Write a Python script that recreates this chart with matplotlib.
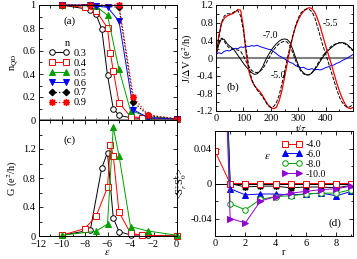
import numpy as np
import matplotlib
matplotlib.use('Agg')
import matplotlib.pyplot as plt
from matplotlib.ticker import MultipleLocator, FormatStrFormatter, FuncFormatter

plt.rcParams['font.family'] = ['Liberation Serif', 'DejaVu Serif']
plt.rcParams['mathtext.fontset'] = 'stix'
plt.rcParams['font.size'] = 7.5

# ---- panel (a): n_QD vs eps ----
eps_03 = [-10, -7.5, -7, -6.5, -6, -5.5, -5, -4, -2.5, 0]
nqd_03 = [1.0, 0.96, 0.92, 0.79, 0.39, 0.10, 0.04, 0.02, 0.01, 0.01]
eps_04 = [-10, -8, -7, -6, -5.75, -5.5, -5, -4, -3, 0]
nqd_04 = [1.0, 0.98, 0.95, 0.80, 0.58, 0.43, 0.15, 0.03, 0.02, 0.01]
eps_05 = [-10, -7, -6, -5, -4, -2.5, 0]
nqd_05 = [1.0, 0.99, 0.91, 0.44, 0.08, 0.03, 0.01]
eps_06 = [-10, -7.5, -7, -6, -5, -3.75, -2.5, 0]
nqd_06 = [1.0, 1.0, 0.99, 0.98, 0.86, 0.09, 0.02, 0.01]
eps_07 = [-10, -7.5, -5, -3.75, -2.5, 0]
nqd_07 = [1.0, 1.0, 0.98, 0.16, 0.04, 0.01]
eps_09 = [-10, -7.5, -5, -3.75, -2.5, 0]
nqd_09 = [1.0, 1.0, 1.0, 0.20, 0.045, 0.01]

# ---- panel (c): conductance ----
geps_03 = [-10, -7.5, -6.5, -6, -5.5, -5, -4, -2.5, 0]
g_03 = [0.01, 0.08, 0.94, 1.15, 0.25, 0.06, 0.015, 0.01, 0.0]
geps_04 = [-10, -8, -7, -6, -5.75, -5.5, -5, -4, -3, 0]
g_04 = [0.01, 0.10, 0.27, 0.67, 1.26, 1.11, 0.33, 0.04, 0.01, 0.0]
geps_05 = [-10, -7, -6, -5.5, -5, -4, -2.5, 0]
g_05 = [0.01, 0.065, 0.165, 1.5, 1.11, 0.13, 0.07, 0.01]

# ---- panel (b): current vs time ----
t_b = list(range(0, 510, 10))
j_55 = [0.0, 0.5, 0.78, 0.9, 0.95, 0.98, 1.0, 1.04, 1.1, 1.08,
        0.7, 0.1, -0.3, -0.5, -0.62, -0.7, -0.76, -0.85, -0.96, -1.06,
        -1.12, -1.15, -1.12, -0.98, -0.75, -0.45, -0.12, 0.2, 0.48, 0.7,
        0.86, 0.98, 1.06, 1.11, 1.14, 1.12, 1.04, 0.9, 0.72, 0.5,
        0.28, 0.08, -0.12, -0.34, -0.55, -0.74, -0.9, -1.03, -1.12, -1.15, -1.12]
j_55b = [0.0, 0.45, 0.8, 0.95, 1.0, 1.0, 1.02, 1.06, 1.07, 0.95,
         0.62, 0.2, -0.2, -0.48, -0.62, -0.72, -0.8, -0.88, -0.98, -1.08,
         -1.12, -1.1, -1.02, -0.85, -0.6, -0.32, -0.02, 0.25, 0.5, 0.72,
         0.9, 1.02, 1.08, 1.11, 1.1, 1.05, 0.92, 0.72, 0.5, 0.28,
         0.1, -0.1, -0.3, -0.5, -0.7, -0.88, -1.0, -1.08, -1.12, -1.1, -1.05]
j_50 = [0.08, 0.3, 0.44, 0.42, 0.33, 0.27, 0.22, 0.15, 0.06, -0.03,
        -0.12, -0.2, -0.27, -0.33, -0.37, -0.36, -0.3, -0.2, -0.06, 0.06,
        0.16, 0.25, 0.32, 0.38, 0.42, 0.43, 0.42, 0.35, 0.2, 0.02,
        -0.15, -0.27, -0.34, -0.38, -0.38, -0.34, -0.27, -0.18, -0.08, 0.02,
        0.1, 0.17, 0.23, 0.28, 0.32, 0.34, 0.35, 0.34, 0.3, 0.24, 0.18]
j_50b = [0.1, 0.35, 0.45, 0.38, 0.28, 0.22, 0.2, 0.19, 0.18, 0.15,
         0.05, -0.08, -0.2, -0.28, -0.32, -0.33, -0.3, -0.25, -0.15, -0.04,
         0.08, 0.18, 0.26, 0.32, 0.36, 0.38, 0.36, 0.28, 0.12, -0.05,
         -0.2, -0.3, -0.36, -0.39, -0.38, -0.33, -0.25, -0.14, -0.04, 0.05,
         0.13, 0.2, 0.26, 0.3, 0.33, 0.35, 0.34, 0.32, 0.28, 0.22, 0.16]
j_70 = [0.08, 0.12, 0.1, 0.15, 0.17, 0.16, 0.2, 0.22, 0.21, 0.25,
        0.24, 0.27, 0.26, 0.28, 0.27, 0.29, 0.26, 0.24, 0.22, 0.2,
        0.19, 0.15, 0.1, 0.05, 0.02, -0.02, -0.06, -0.1, -0.12, -0.17,
        -0.2, -0.22, -0.21, -0.25, -0.26, -0.24, -0.27, -0.26, -0.27, -0.25,
        -0.22, -0.2, -0.17, -0.16, -0.12, -0.1, -0.06, -0.03, 0.0, 0.04, 0.08]

# ---- panel (d): spin correlations ----
r_d = [0, 1, 2, 3, 4, 5, 6, 7, 8, 9]
s_40 = [0.037, 0.0, 0.0, 0.0, 0.0, 0.0, 0.0, 0.0, 0.0, 0.0]
s_60 = [0.5, -0.006, -0.013, -0.012, -0.012, -0.013, -0.012, -0.011, -0.014, -0.009]
s_80 = [0.5, -0.023, -0.030, -0.018, -0.015, -0.014, -0.012, -0.011, -0.011, -0.007]
s_100 = [0.5, -0.040, -0.045, -0.020, -0.015, -0.011, -0.009, -0.007, -0.006, -0.003]
s_blk = [0.5, 0.0, -0.004, -0.003, -0.003, -0.005, -0.004, -0.004, -0.005, -0.002]

RED = '#ff0000'
GREEN = '#00a000'
BLUE = '#0000ff'
PURPLE = '#9400d3'
ast = (8, 2, 0)

W, H = 357, 259
fig = plt.figure(figsize=(W / 100, H / 100), dpi=100)


def pos(l, t, r, b):
    return [l / W, 1 - b / H, (r - l) / W, (b - t) / H]


def style(ax):
    ax.tick_params(which='both', direction='in', top=True, right=True,
                   length=3, width=0.6, pad=2, labelsize=7.5)
    ax.tick_params(which='minor', length=1.8)
    for s in ax.spines.values():
        s.set_linewidth(0.7)


fmt = FuncFormatter(lambda v, p: '%g' % round(v, 3))

ax_a = fig.add_axes(pos(38.5, 5, 176.5, 120))
ax_c = fig.add_axes(pos(38.5, 120, 176.5, 236))
ax_b = fig.add_axes(pos(216, 5, 353, 111))
ax_d = fig.add_axes(pos(215, 131, 353, 236))

# (a)
ax_a.axhline(0, color='grey', lw=2)
kw = dict(lw=0.7, ms=4, clip_on=False, mew=0.7)
ax_a.plot(eps_03, nqd_03, '-o', color='k', mfc='white', label='0.3', **kw)
ax_a.plot(eps_04, nqd_04, '-s', color=RED, mfc='white', label='0.4', **kw)
ax_a.plot(eps_05, nqd_05, '-^', color=GREEN, label='0.5', **kw)
ax_a.plot(eps_06, nqd_06, '-v', color=BLUE, label='0.6', **kw)
ax_a.plot(eps_07, nqd_07, ':D', color='k', label='0.7', lw=0.9, ms=3.2, clip_on=False)
ax_a.plot(eps_09, nqd_09, ':', marker=ast, color=RED, label='0.9', lw=0.9, ms=5, clip_on=False)
ax_a.set_xlim(-12, 0)
ax_a.set_ylim(0, 1)
ax_a.xaxis.set_major_locator(MultipleLocator(2))
ax_a.xaxis.set_minor_locator(MultipleLocator(1))
ax_a.yaxis.set_major_locator(MultipleLocator(0.2))
ax_a.yaxis.set_minor_locator(MultipleLocator(0.1))
ax_a.yaxis.set_major_formatter(fmt)
ax_a.set_xticklabels([])
style(ax_a)
ax_a.set_ylabel(r'n$_{\mathrm{QD}}$', labelpad=2)
ax_a.text(0.18, 0.84, '(a)', transform=ax_a.transAxes, fontsize=8)
leg = ax_a.legend(title='n', loc='upper left', bbox_to_anchor=(0.02, 0.765),
                  frameon=False, fontsize=7.5, handlelength=2.0, numpoints=2,
                  labelspacing=0.05, borderpad=0.2, handletextpad=0.4)
leg.get_title().set_fontsize(7.5)

# (c)
ax_c.plot(geps_03, g_03, '-o', color='k', mfc='white', **kw)
ax_c.plot(geps_04, g_04, '-s', color=RED, mfc='white', **kw)
ax_c.plot(geps_05, g_05, '-^', color=GREEN, **kw)
ax_c.set_xlim(-12, 0)
ax_c.set_ylim(0, 1.6)
ax_c.set_yticks([0, 0.4, 0.8, 1.2])
ax_c.yaxis.set_minor_locator(MultipleLocator(0.2))
ax_c.xaxis.set_major_locator(MultipleLocator(2))
ax_c.xaxis.set_minor_locator(MultipleLocator(1))
ax_c.yaxis.set_major_formatter(fmt)
style(ax_c)
ax_c.tick_params(axis='x', pad=3)
ax_c.set_ylabel(r'G (e$^2$/h)', labelpad=2)
ax_c.set_xlabel(r'$\varepsilon$', labelpad=-1)
ax_c.text(0.18, 0.8, '(c)', transform=ax_c.transAxes, fontsize=8)

# (b)
ax_b.axhline(0, color='grey', lw=1.5)
ax_b.plot(t_b, j_70, color=BLUE, lw=0.7)
ax_b.plot(t_b, j_50, color='k', lw=0.7)
ax_b.plot(t_b, j_50b, '--', color='k', lw=0.7)
ax_b.plot(t_b, j_55, color=RED, lw=0.9)
ax_b.plot(t_b, j_55b, '--', color='k', lw=0.7)
ax_b.set_xlim(0, 500)
ax_b.set_ylim(-1.2, 1.2)
ax_b.set_xticks([0, 100, 200, 300, 400])
ax_b.xaxis.set_minor_locator(MultipleLocator(50))
ax_b.yaxis.set_major_locator(MultipleLocator(0.4))
ax_b.yaxis.set_minor_locator(MultipleLocator(0.2))
ax_b.yaxis.set_major_formatter(fmt)
style(ax_b)
ax_b.set_ylabel(r'J/$\Delta$V (e$^2$/h)', labelpad=1)
ax_b.set_xlabel(r't/$\tau$')
ax_b.xaxis.set_label_coords(0.62, -0.115)
ax_b.text(0.08, 0.2, '(b)', transform=ax_b.transAxes, fontsize=8)
ax_b.text(0.78, 0.8, '-5.5', transform=ax_b.transAxes, fontsize=7)
ax_b.text(0.34, 0.69, '-7.0', transform=ax_b.transAxes, fontsize=7)
ax_b.text(0.40, 0.31, '-5.0', transform=ax_b.transAxes, fontsize=7)

# (d)
ax_d.axhline(0, color='k', lw=0.7)
kd = dict(lw=0.7, ms=4, mew=0.7)
ax_d.plot(r_d, s_blk, '-', marker=ast, color='k', ms=5, lw=0.7)
ax_d.plot(r_d, s_40, '-s', color=RED, mfc='white', label='-4.0', **kd)
ax_d.plot(r_d, s_60, '-^', color=BLUE, label='-6.0', **kd)
ax_d.plot(r_d, s_80, '-o', color=GREEN, mfc='white', label='-8.0', **kd)
ax_d.plot(r_d, s_100, '->', color=PURPLE, label='-10.0', **kd)
ax_d.set_xlim(0, 9.1)
ax_d.set_ylim(-0.06, 0.06)
ax_d.xaxis.set_major_locator(MultipleLocator(2))
ax_d.xaxis.set_minor_locator(MultipleLocator(1))
ax_d.set_yticks([-0.04, 0, 0.04])
ax_d.yaxis.set_minor_locator(MultipleLocator(0.02))
ax_d.yaxis.set_major_formatter(fmt)
style(ax_d)
ax_d.set_ylabel(r'<S$^z_r$S$^z_0$>', labelpad=1)
ax_d.set_xlabel('r', labelpad=0)
ax_d.text(0.82, 0.1, '(d)', transform=ax_d.transAxes, fontsize=8)
ax_d.text(0.38, 0.76, r'$\varepsilon$', transform=ax_d.transAxes, fontsize=8,
          ha='center', va='center')
ax_d.legend(loc='upper left', bbox_to_anchor=(0.44, 0.98), frameon=False,
            fontsize=7, handlelength=2.0, numpoints=2, labelspacing=0.1,
            borderpad=0.2, handletextpad=0.4)

fig.savefig('out.png', dpi=100)
